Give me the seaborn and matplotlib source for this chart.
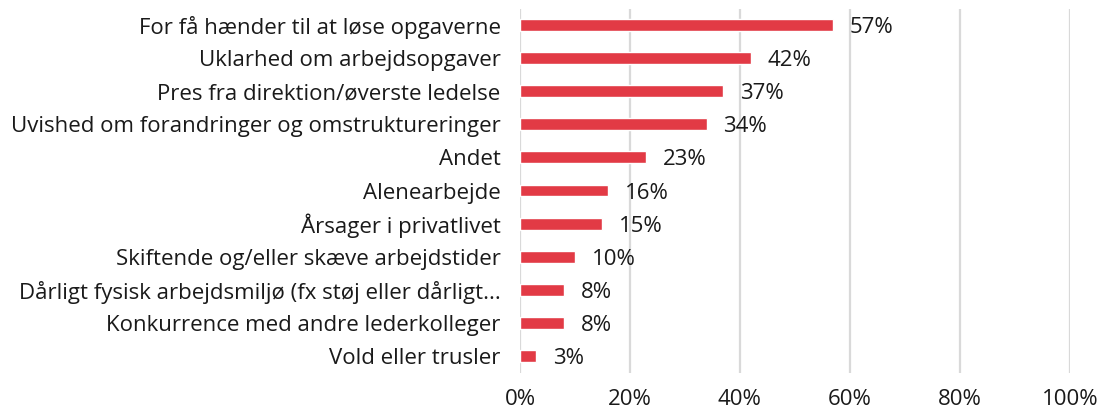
import pandas as pd
import matplotlib.pyplot as plt
import seaborn as sns

categories = [
    "For få hænder til at løse opgaverne",
    "Uklarhed om arbejdsopgaver",
    "Pres fra direktion/øverste ledelse",
    "Uvished om forandringer og omstruktureringer",
    "Andet",
    "Alenearbejde",
    "Årsager i privatlivet",
    "Skiftende og/eller skæve arbejdstider",
    "Dårligt fysisk arbejdsmiljø (fx støj eller dårligt...",
    "Konkurrence med andre lederkolleger",
    "Vold eller trusler",
]
values = [57, 42, 37, 34, 23, 16, 15, 10, 8, 8, 3]
xticks = [0, 20, 40, 60, 80, 100]

df = pd.DataFrame({"cat": categories, "val": values})

sns.set_style("white")
plt.rcParams['font.family'] = ['Open Sans', 'DejaVu Sans']

fig = plt.figure(figsize=(11.03, 4.17), dpi=100)
ax = fig.add_axes([0.4714, 0.1067, 0.4986, 0.8729])

sns.barplot(data=df, x="val", y="cat", orient="h", color="#E23A45",
            saturation=1, width=0.36, ax=ax, zorder=3)

for i, v in enumerate(values):
    ax.text(v + 3, i, f"{v}%", va="center_baseline", ha="left", fontsize=16, color="#1a1a1a")

ax.set_xlim(0, 100)
ax.set_xticks(xticks)
ax.set_xticklabels([f"{t}%" for t in xticks])
ax.grid(axis="x", color="#d9d9d9", linewidth=1.6, zorder=0)
ax.set_axisbelow(True)
for s in ax.spines.values():
    s.set_visible(False)
ax.set_xlabel("")
ax.set_ylabel("")
ax.tick_params(axis="both", length=0, labelsize=16, colors="#1a1a1a")
ax.tick_params(axis="y", pad=14)
ax.tick_params(axis="x", pad=12)

fig.savefig("out.png", dpi=100)
